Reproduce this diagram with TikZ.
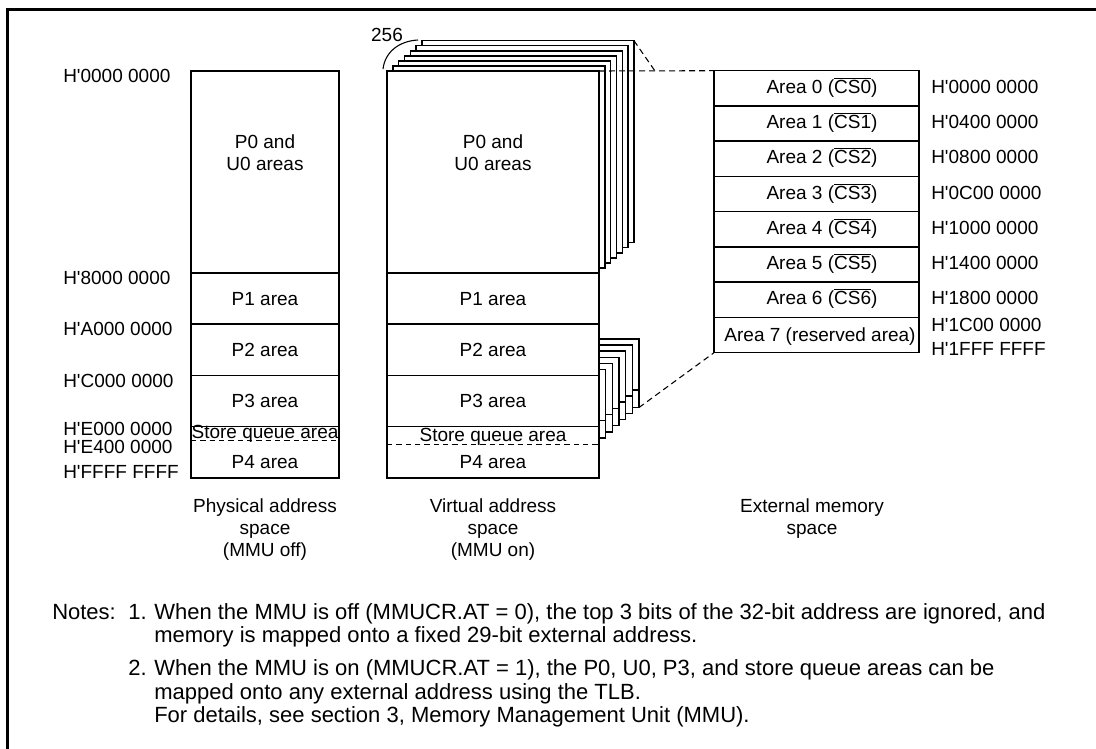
\documentclass[tikz,border=0pt]{standalone}
\usepackage{fontspec}
\setmainfont{Liberation Sans}
\usetikzlibrary{calc}

\newcommand{\csbar}[1]{$\overline{\mbox{CS#1}}$}
\newcommand{\hq}[1]{H\textquotesingle#1}

\begin{document}
\begin{tikzpicture}[x=0.75pt, y=-0.75pt,
  box/.style={draw, fill=white, line width=1.1pt},
  sep/.style={line width=1.1pt},
  sqline/.style={dashed, dash pattern=on 4pt off 3pt, line width=0.8pt},
  link/.style={dashed, dash pattern=on 4.5pt off 3pt, line width=0.8pt},
  txt/.style={anchor=base, inner sep=0pt, font=\fontsize{14.25}{16.5}\selectfont},
  addr/.style={txt, anchor=base west},
  note/.style={anchor=base west, inner sep=0pt, font=\fontsize{16.5}{19}\selectfont},
]
\useasboundingbox (0,0) rectangle (1096,749);

% frame
\draw[line width=2pt] (7.5,749) -- (7.5,9.5) -- (1096,9.5);

% physical address space
\draw[box] (191,71) rectangle (339,478);
\foreach \y in {273,324,375.5,426.5}
  \draw[sep] (191,\y) -- (339,\y);
\draw[sqline] (191,440.5) -- (339,440.5);
\node[txt, align=center] (pP0) at (265,170) {P0 and\\U0 areas};
\node[txt] (pP1) at (265,305) {P1 area};
\node[txt] (pP2) at (265,356) {P2 area};
\node[txt] (pP3) at (265,407.5) {P3 area};
\node[txt] (pSQ) at (265,438.5) {Store queue area};
\node[txt] (pP4) at (265,468) {P4 area};

\node[addr] (a0) at (63,82.5) {\hq{0000 0000}};
\node[addr] (a1) at (63,284.5) {\hq{8000 0000}};
\node[addr] (a2) at (63,335.5) {\hq{A000 0000}};
\node[addr] (a3) at (63,387) {\hq{C000 0000}};
\node[addr] (a4) at (63,435) {\hq{E000 0000}};
\node[addr] (a5) at (63,453) {\hq{E400 0000}};
\node[addr] (a6) at (63,478.5) {\hq{FFFF FFFF}};

% virtual address space: 256 pages behind
\foreach \k in {6,...,1}
  \draw[box] ({387+\k*5.83},{71-\k*5.05}) rectangle ++(212,202);
\foreach \k in {6,...,1} {
  \draw[box] ({387+\k*6.67},{375.5-\k*6.08}) rectangle ++(212,68.5);
  \draw[sep] ({387+\k*6.67},{426.5-\k*6.08}) -- ++(212,0);
}
\coordinate (pgTop) at ({599+6*5.83},{71-6*5.05});
\coordinate (pgSQ) at ({599+6*6.67},{444-6*6.08});

% virtual address space: front page
\draw[box] (387,71) rectangle (599,478);
\foreach \y in {273,324,375.5,426.5}
  \draw[sep] (387,\y) -- (599,\y);
\draw[sqline] (387,444.3) -- (599,444.3);
\coordinate (vTR) at (599,71);
\node[txt, align=center] (vP0) at (493,170) {P0 and\\U0 areas};
\node[txt] (vP1) at (493,305) {P1 area};
\node[txt] (vP2) at (493,356) {P2 area};
\node[txt] (vP3) at (493,407.5) {P3 area};
\node[txt] (vSQ) at (493,441.5) {Store queue area};
\node[txt] (vP4) at (493,468) {P4 area};

\draw[line width=0.8pt] (383,69) .. controls (385,52) and (399,41) .. (418,40);
\node[txt] (n256) at (387,41.5) {256};

% external memory space
\foreach \i in {0,...,7}
  \draw[box] (714,{70.7+35.25*\i}) rectangle ++(205,35.25);
\coordinate (eTL) at (714,70.7);
\coordinate (eBL) at (714,352.7);
\foreach \i in {0,...,6}
  \node[txt] (area\i) at (822,{93.3+35.25*\i}) {Area \i\ (\csbar{\i})};
\node[txt] (area7) at (820,341) {Area 7 (reserved area)};

\foreach \i/\a in {0/0000,1/0400,2/0800,3/0C00,4/1000,5/1400,6/1800}
  \node[addr] (e\i) at (931,{93.3+35.25*\i}) {\hq{\a\ 0000}};
\node[addr] (e7) at (931,331.5) {\hq{1C00 0000}};
\node[addr] (e8) at (931,355) {\hq{1FFF FFFF}};

% mapping lines
\coordinate (meet) at (655,71);
\draw[link] (vTR) -- (eTL);
\draw[link] (pgTop) -- (meet);
\draw[link] (pgSQ) -- (eBL);

% captions
\node[txt, align=center, anchor=north] (capP) at (265,498) {Physical address\\space\\(MMU off)};
\node[txt, align=center, anchor=north] (capV) at (493,498) {Virtual address\\space\\(MMU on)};
\node[txt, align=center, anchor=north] (capE) at (812,498) {External memory\\space};

% notes
\node[note] (nt) at (52,619.2) {Notes:};
\node[note] (n1) at (128,619.2) {1.};
\node[note] (n1a) at (154,619.2) {When the MMU is off (MMUCR.AT = 0), the top 3 bits of the 32-bit address are ignored, and};
\node[note] (n1b) at (154,642.7) {memory is mapped onto a fixed 29-bit external address.};
\node[note] (n2) at (128,675.7) {2.};
\node[note] (n2a) at (154,675.7) {When the MMU is on (MMUCR.AT = 1), the P0, U0, P3, and store queue areas can be};
\node[note] (n2b) at (154,699.2) {mapped onto any external address using the TLB.};
\node[note] (n2c) at (154,722.7) {For details, see section 3, Memory Management Unit (MMU).};

\end{tikzpicture}
\end{document}
